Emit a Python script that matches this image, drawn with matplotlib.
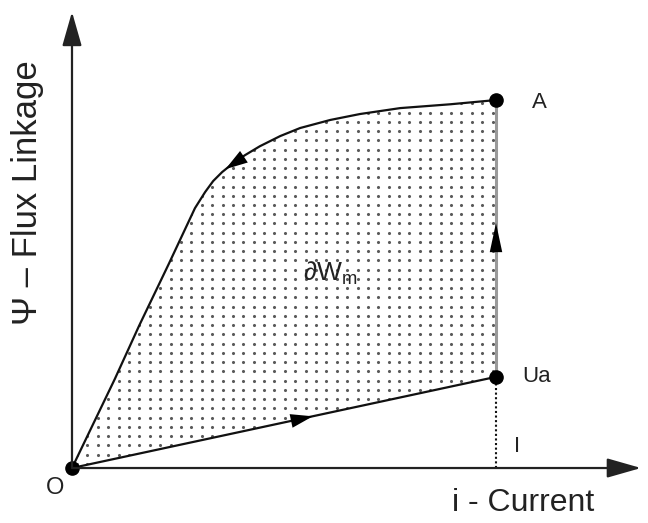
import numpy as np
import matplotlib
matplotlib.use("Agg")
import matplotlib.pyplot as plt
from matplotlib.patches import Polygon

plt.rcParams['font.family'] = ['Liberation Sans', 'DejaVu Sans']
plt.rcParams['mathtext.fontset'] = 'custom'
plt.rcParams['mathtext.rm'] = 'Liberation Sans'
plt.rcParams['mathtext.it'] = 'Liberation Sans:italic'

# magnetisation curve O -> A (current i, flux linkage psi)
i_upper = [0, 1.01, 1.58, 2.29, 2.90, 3.14, 3.33, 3.54, 3.80, 4.08, 4.43, 4.91,
           5.38, 6.09, 6.79, 7.74, 8.92, 10.0]
psi_upper = [0, 2.10, 3.35, 4.83, 6.13, 6.51, 6.77, 6.98, 7.19, 7.38, 7.59, 7.83,
             8.02, 8.21, 8.35, 8.49, 8.58, 8.68]

# straight line O -> Ua
i_lower = [0, 10.0]
psi_lower = [0, 2.15]

i_a, psi_a = 10.0, 8.68
i_ua, psi_ua = 10.0, 2.15

fig = plt.figure(figsize=(6.48, 5.23), dpi=100)
ax = fig.add_axes([0, 0, 1, 1])
ax.set_xlim(-1.698, 13.585)
ax.set_ylim(-1.297, 11.04)
ax.axis('off')

# shaded region with a grid of grey dots
region = list(zip(i_upper, psi_upper)) + [(i_ua, psi_ua)] + list(zip(i_lower[::-1], psi_lower[::-1]))
poly = Polygon(region, closed=True, facecolor='none', edgecolor='none')
ax.add_patch(poly)
gx, gy = np.meshgrid(np.arange(0.12, 10.0, 0.245), np.arange(0.1, 8.7, 0.218))
dots = ax.scatter(gx.ravel(), gy.ravel(), s=5, color='#5a5a5a', linewidths=0)
dots.set_clip_path(poly)

# axes with arrows
axis_kw = dict(arrowstyle='-|>,head_length=2.1,head_width=0.6', mutation_scale=10,
               color='#222222', lw=1.6, shrinkA=0, shrinkB=0)
ax.annotate('', xy=(0, 10.76), xytext=(0, 0), arrowprops=axis_kw)
ax.annotate('', xy=(13.42, 0), xytext=(0, 0), arrowprops=axis_kw)

# curves
ax.plot(i_upper, psi_upper, color='#111111', lw=1.6)
ax.plot(i_lower, psi_lower, color='#111111', lw=1.6)
ax.plot([i_ua, i_a], [psi_ua, psi_a], color='#9a9a9a', lw=2.2)
ax.plot([i_ua, i_ua], [0, psi_ua], color='#111111', lw=1.5, ls=(0, (1, 1.2)))

# direction arrows
head = dict(arrowstyle='-|>,head_length=1.6,head_width=0.5', mutation_scale=10,
            color='black', lw=0, shrinkA=0, shrinkB=0)
ax.annotate('', xy=(5.68, 1.22), xytext=(5.0, 1.075), arrowprops=head)
ax.annotate('', xy=(3.62, 7.05), xytext=(4.2, 7.44), arrowprops=head)
ax.annotate('', xy=(10.0, 5.78), xytext=(10.0, 5.0),
            arrowprops=dict(head, arrowstyle='-|>,head_length=2.1,head_width=0.45'))

# points
ax.plot([0, i_a, i_ua], [0, psi_a, psi_ua], 'o', color='black', ms=9.5)

# labels
ax.text(10.85, psi_a - 0.05, 'A', fontsize=16, ha='left', va='center', color='#222222')
ax.text(10.62, psi_ua + 0.02, 'Ua', fontsize=16, ha='left', va='center', color='#222222')
ax.text(10.5, 0.5, 'I', fontsize=16, ha='center', va='center', color='#222222')
ax.text(-0.4, -0.47, 'O', fontsize=17, ha='center', va='center', color='#222222')
ax.text(6.1, 4.6, r'$\partial\mathrm{W}_{\mathrm{m}}$', fontsize=19, ha='center', va='center',
        color='#222222')
ax.text(10.65, -0.82, 'i - Current', fontsize=23, ha='center', va='center', color='#222222')
ax.text(-1.06, 6.5, 'Ψ – Flux Linkage', fontsize=25, rotation=90, ha='center', va='center',
        color='#222222')

fig.savefig('out.png', dpi=100)
